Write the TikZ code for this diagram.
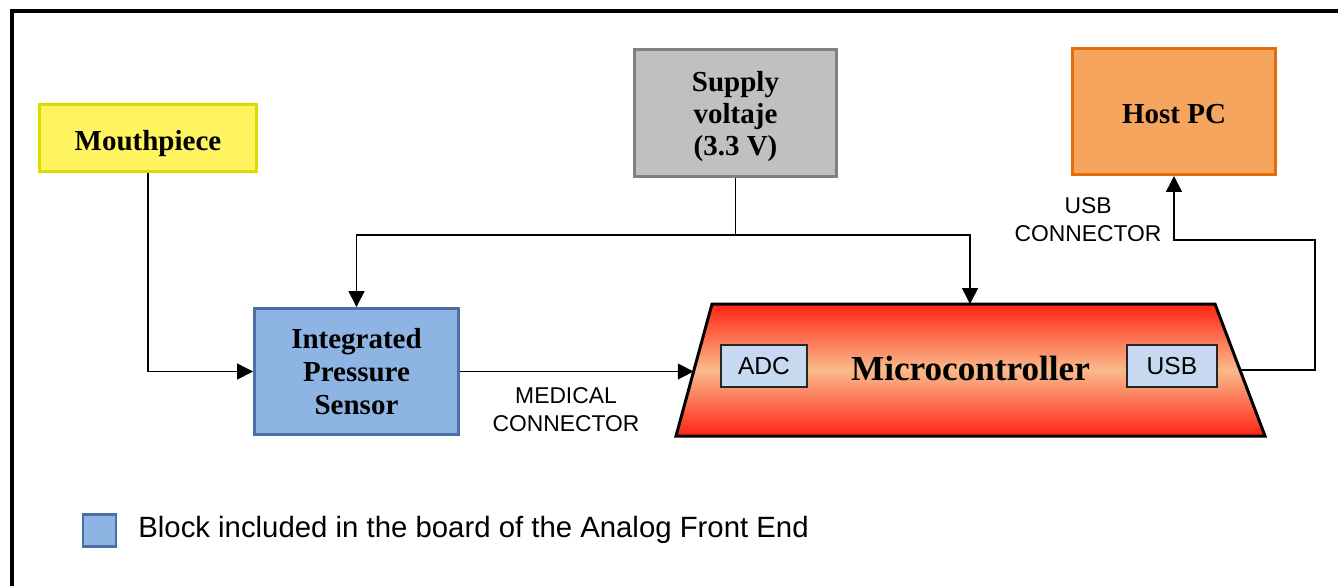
\documentclass[tikz,border=0pt]{standalone}
\usepackage{fontspec}
\setmainfont{Liberation Serif}
\newfontfamily\arialfont{Liberation Sans}
\usetikzlibrary{arrows.meta}

\definecolor{mouthfill}{HTML}{FFF460}
\definecolor{mouthline}{HTML}{DCDC00}
\definecolor{supplyfill}{HTML}{C0C0C0}
\definecolor{supplyline}{HTML}{808080}
\definecolor{hostfill}{HTML}{F6A55F}
\definecolor{hostline}{HTML}{E46C0A}
\definecolor{afefill}{HTML}{8EB4E3}
\definecolor{afeline}{HTML}{4A6FA5}
\definecolor{mcured}{HTML}{FF2414}
\definecolor{mcumid}{HTML}{F9BB8C}
\definecolor{portfill}{HTML}{C6D9F1}

\begin{document}
\begin{tikzpicture}[x=0.02cm,y=-0.02cm,
    block/.style={draw,line width=1.7pt,inner sep=0pt,align=center,
        font=\fontsize{16.5}{19}\selectfont\bfseries},
    port/.style={draw=black!85,line width=1.5pt,fill=portfill,inner sep=0pt,
        minimum height=0.84cm,font=\arialfont\fontsize{14}{16}\selectfont},
    lbl/.style={align=center,font=\arialfont\fontsize{13}{16}\selectfont},
    arr/.style={line width=0.85pt,-{Triangle[length=9pt,width=9pt]}}]
\useasboundingbox (0,0) rectangle (1338,586);
% frame
\draw[line width=2.3pt] (12,586) -- (12,11) -- (1338,11);
% blocks
\node [block,draw=mouthline,fill=mouthfill,minimum width=4.34cm,minimum height=1.34cm]
    (mouth) at (148,138) {\raisebox{-3pt}[\height][\depth]{Mouthpiece}};
\node [block,draw=supplyline,fill=supplyfill,minimum width=4.04cm,minimum height=2.54cm]
    (supply) at (735.5,113) {\raisebox{-2pt}[\height][\depth]{\shortstack{Supply\\voltaje\\(3.3 V)}}};
\node [block,draw=hostline,fill=hostfill,minimum width=4.06cm,minimum height=2.52cm]
    (host) at (1174,111.5) {\raisebox{-1.5pt}[\height][\depth]{Host PC}};
\node [block,draw=afeline,fill=afefill,minimum width=4.08cm,minimum height=2.52cm]
    (ips) at (356.5,371.5) {Integrated\\Pressure\\Sensor};
% microcontroller body
\coordinate (mcuBL) at (676,436);
\coordinate (mcuTL) at (712,304);
\coordinate (mcuTR) at (1215,304);
\coordinate (mcuBR) at (1265,436);
\shade [draw,line width=1.7pt,line join=miter,top color=mcured,bottom color=mcured,middle color=mcumid]
    (mcuBL) -- (mcuTL) -- (mcuTR) -- (mcuBR) -- cycle;
\node [font=\fontsize{20}{24}\selectfont\bfseries] (micro) at (970.5,368) {Microcontroller};
\node [port,minimum width=1.72cm] (adc) at (764,366) {ADC};
\node [port,minimum width=1.80cm] (usb) at (1172,366) {USB};
% connector end points
\coordinate (bus) at (735.5,235);
\coordinate (usbrail) at (1315,240);
\coordinate (mcutop) at (970,304);
\coordinate (mculeft) at (693.6,371.5);
\coordinate (mcuright) at (1240,370);
% connectors
\draw [arr] (mouth.south) |- (ips.west);
\draw [arr] (supply.south) -- (bus) -| (ips.north);
\draw [arr] (bus) -| (mcutop);
\draw [arr] (ips.east) -- (mculeft);
\draw [arr] (mcuright) -| (usbrail) -| (host.south);
\node [lbl] (medlbl) at (566,410) {MEDICAL\\CONNECTOR};
\node [lbl] (usblbl) at (1088,220) {USB\\CONNECTOR};
% legend
\node [draw=afeline,fill=afefill,line width=1.7pt,minimum width=0.66cm,minimum height=0.64cm,
    inner sep=0pt] (legbox) at (99.5,530) {};
\node [anchor=west,inner sep=0pt,font=\arialfont\fontsize{16.7}{20}\selectfont]
    (legtext) at (138,530) {Block included in the board of the Analog Front End};
\end{tikzpicture}
\end{document}
